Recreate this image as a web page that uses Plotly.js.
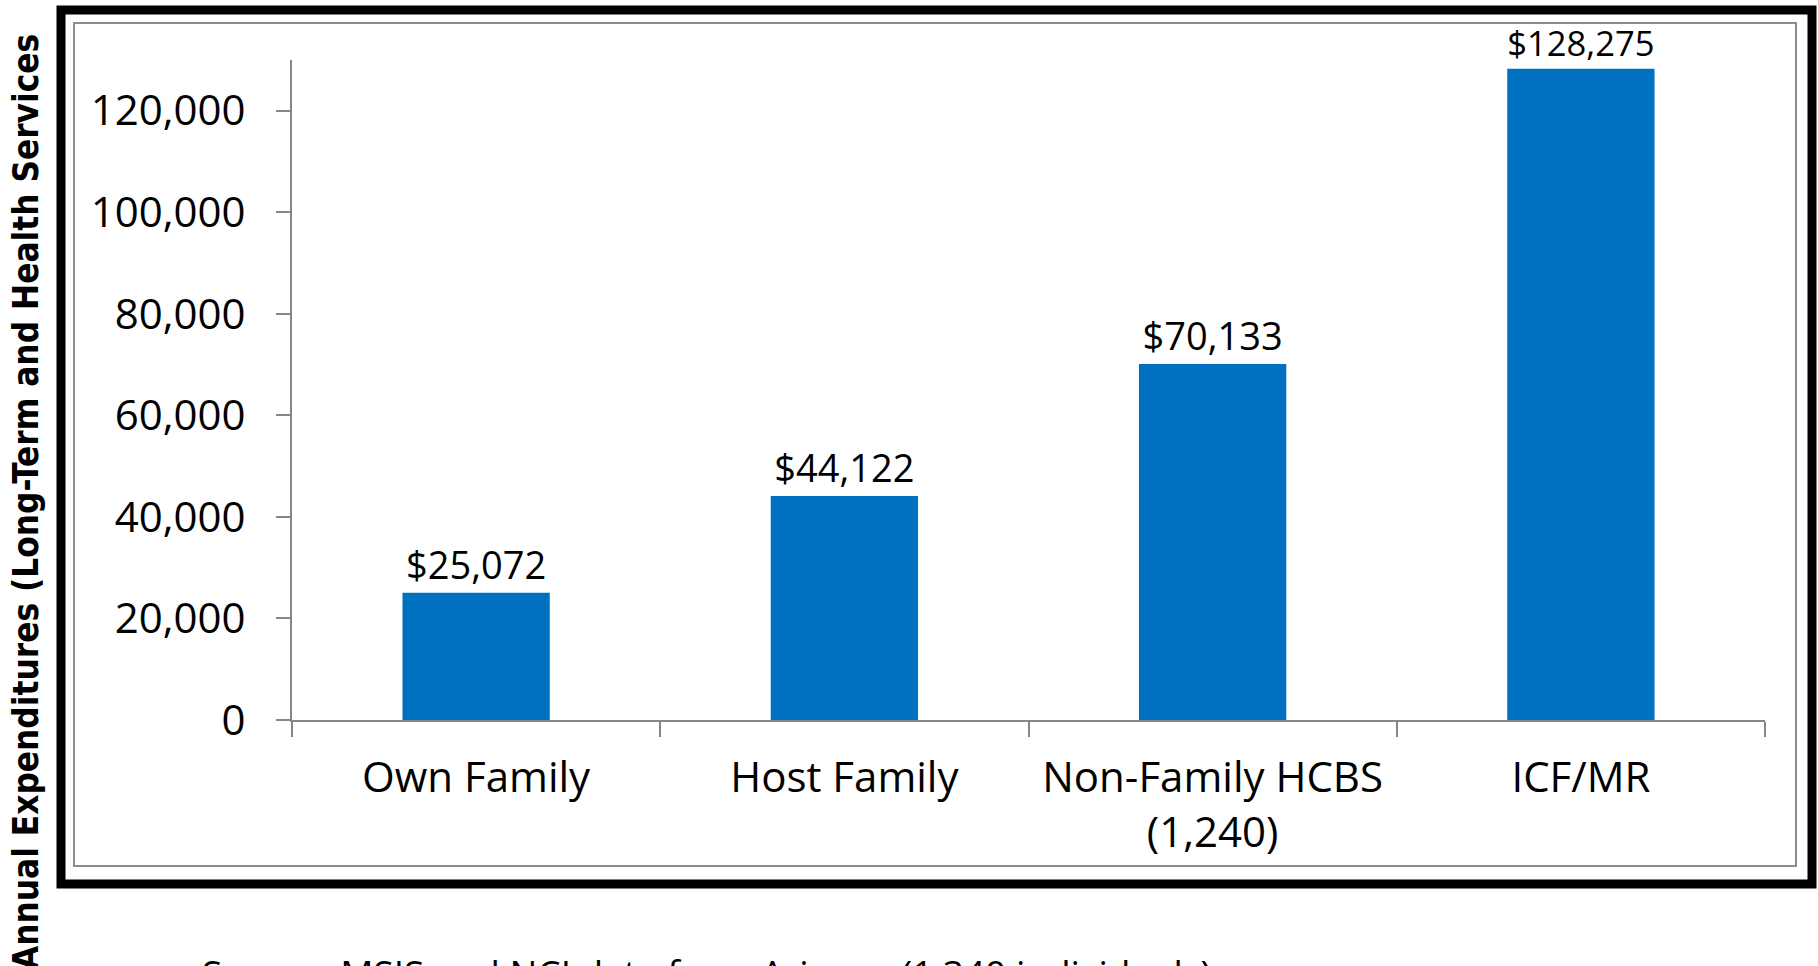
<!DOCTYPE html>
<html>
<head>
<meta charset="utf-8">
<script src="https://cdn.plot.ly/plotly-3.0.1.min.js"></script>
<style>
html,body{margin:0;padding:0;background:#fff;}
#chart{width:1818px;height:966px;}
</style>
</head>
<body>
<div id="chart"></div>
<script>
const categories = ["Own Family", "Host Family", "Non-Family HCBS<br>(1,240)", "ICF/MR"];
const values = [25072, 44122, 70133, 128275];
const yTickVals = [0, 20000, 40000, 60000, 80000, 100000, 120000];
const yTickText = ["0", "20,000", "40,000", "60,000", "80,000", "100,000", "120,000"];
const yTitle = "Annual Expenditures (Long-Term and Health Services";
const sourceNote = "Source: MSIS and NCI data from Arizona (1,340 individuals)";

const W = 1818, H = 966;
const L = 292, R = 1765, T = 60, B = 720;
const px = x => (x - L) / (R - L);
const py = y => (B - y) / (B - T);

const labels = values.map(v => "$" + v.toLocaleString("en-US"));

const trace = {
  type: "bar",
  x: categories,
  y: values,
  text: labels,
  textposition: "outside",
  cliponaxis: false,
  textfont: {family: "Open Sans, sans-serif", size: 38, color: "#000"},
  marker: {color: "#0070C0", line: {width: 0}},
  hoverinfo: "none"
};

const axisGray = "#868686";

const layout = {
  width: W, height: H,
  margin: {l: L, r: W - R, t: T, b: H - B, pad: 0},
  paper_bgcolor: "#fff",
  plot_bgcolor: "#fff",
  showlegend: false,
  bargap: 0.6,
  font: {family: "Open Sans, sans-serif", color: "#000"},
  xaxis: {
    type: "category",
    showline: true, linecolor: axisGray, linewidth: 2,
    ticks: "outside", tickson: "boundaries", ticklen: 15, tickcolor: axisGray, tickwidth: 2,
    tickfont: {family: "Open Sans, sans-serif", size: 42, color: "#000"},
    ticklabelstandoff: 20,
    showgrid: false, zeroline: false, fixedrange: true
  },
  yaxis: {
    range: [0, 130000],
    tickmode: "array", tickvals: yTickVals, ticktext: yTickText,
    showline: true, linecolor: axisGray, linewidth: 2,
    ticks: "outside", ticklen: 14, tickcolor: axisGray, tickwidth: 2,
    tickfont: {family: "Open Sans, sans-serif", size: 42, color: "#000"},
    ticklabelstandoff: 22,
    showgrid: false, zeroline: false, fixedrange: true
  },
  shapes: [
    {type: "rect", xref: "paper", yref: "paper",
     x0: px(61), x1: px(1812), y0: py(10), y1: py(884),
     line: {color: "#000", width: 9}, fillcolor: "rgba(0,0,0,0)", layer: "below"},
    {type: "rect", xref: "paper", yref: "paper",
     x0: px(74), x1: px(1796), y0: py(23), y1: py(866),
     line: {color: "#8c8c8c", width: 2}, fillcolor: "rgba(0,0,0,0)", layer: "below"}
  ],
  annotations: [
    {text: "<b>" + yTitle + "</b>", textangle: -90,
     xref: "paper", yref: "paper", x: px(26), y: py(32),
     xanchor: "center", yanchor: "top", showarrow: false,
     font: {family: "DejaVu Sans Condensed, Liberation Sans Narrow, sans-serif", size: 34.8, color: "#000"}},
    {text: sourceNote,
     xref: "paper", yref: "paper", x: px(200), y: py(945),
     xanchor: "left", yanchor: "top", showarrow: false,
     font: {family: "Open Sans, sans-serif", size: 37, color: "#000"}}
  ]
};

Plotly.newPlot("chart", [trace], layout, {displayModeBar: false, staticPlot: true});
</script>
</body>
</html>
